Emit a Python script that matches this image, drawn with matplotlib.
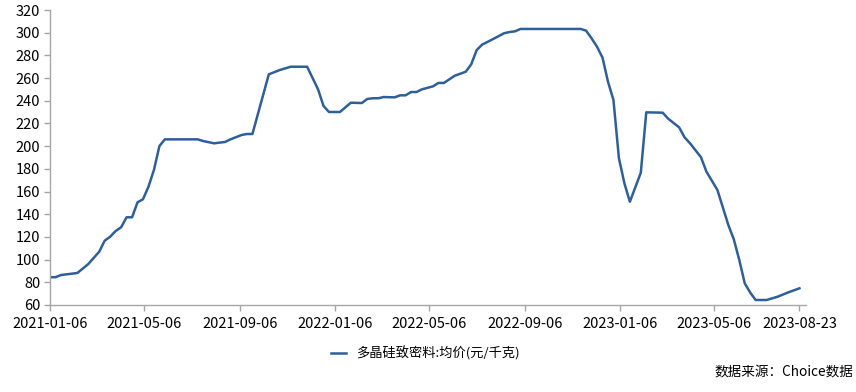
import numpy as np
import pandas as pd
import matplotlib
matplotlib.use("Agg")
import matplotlib.pyplot as plt

plt.rcParams['font.family'] = ['Noto Sans CJK SC', 'DejaVu Sans']
plt.rcParams['axes.unicode_minus'] = False

# ---------------------- 数据 ----------------------
start = "2021-01-06"
# 距 2021-01-06 的周数（周度数据的拐点）
weeks = [0, 1, 2, 4, 5, 7, 9, 10, 11, 12, 13, 14, 15, 16, 17, 18, 19, 20, 21, 27,
         28, 30, 32, 33, 35, 36, 37, 40, 42, 44, 47, 49, 50, 51, 53, 55, 57, 58, 59, 60,
         61, 63, 64, 65, 66, 67, 68, 70, 71, 72, 73, 74, 76, 77, 78, 79, 81, 83, 84, 85,
         86, 97, 98, 99, 100, 101, 102, 103, 104, 105, 106, 108, 109, 112, 113, 115, 116, 117, 119, 120,
         122, 124, 125, 126, 127, 128, 129, 131, 133, 135, 137]
price = [84.5, 84.5, 86.4, 87.6, 88.2, 96.1, 107.0, 116.7, 120.2, 125.2, 128.5, 137.3, 137.3, 150.5, 153.2, 164.3, 179.0, 200.1, 206.0, 206.0,
         204.5, 202.5, 203.7, 206.0, 209.8, 210.7, 210.7, 263.3, 267.1, 270.0, 270.0, 250.1, 235.4, 230.1, 230.1, 238.3, 238.0, 241.6, 242.2, 242.2,
         243.3, 243.0, 244.8, 244.8, 247.7, 247.7, 250.1, 252.7, 255.7, 255.7, 258.9, 262.1, 265.6, 272.1, 284.7, 289.5, 294.4, 299.5, 300.6, 301.2,
         303.3, 303.3, 301.8, 295.0, 287.6, 278.0, 256.8, 240.7, 189.3, 167.3, 151.0, 176.6, 229.8, 229.5, 224.2, 216.6, 207.8, 202.5, 190.2, 177.5,
         161.4, 130.5, 117.9, 99.7, 79.1, 70.9, 64.4, 64.4, 67.3, 71.2, 74.7]
tick_labels = ["2021-01-06", "2021-05-06", "2021-09-06", "2022-01-06", "2022-05-06",
               "2022-09-06", "2023-01-06", "2023-05-06", "2023-08-23"]
series_name = "多晶硅致密料:均价(元/千克)"
source_text = "数据来源：Choice数据"
# ---------------------------------------------------

dates = pd.Timestamp(start) + pd.to_timedelta(np.array(weeks) * 7, unit="D")
ticks = pd.to_datetime(tick_labels)

fig = plt.figure(figsize=(8.56, 3.92), dpi=100)
ax = fig.add_axes([50 / 856, 1 - 305 / 392, (805.7 - 50) / 856, (305 - 10) / 392])

ax.plot(dates, price, color="#2f5f98", lw=1.8, label=series_name)

ax.set_ylim(60, 320)
ax.set_yticks(np.arange(60, 321, 20))
ax.set_xlim(pd.Timestamp(start), pd.Timestamp("2023-08-31"))
ax.set_xticks(ticks)
ax.set_xticklabels(tick_labels)

for s in ["top", "right"]:
    ax.spines[s].set_visible(False)
for s in ["left", "bottom"]:
    ax.spines[s].set_color("#a6a6a6")
    ax.spines[s].set_linewidth(1)
ax.tick_params(axis="both", colors="#a6a6a6", labelcolor="black", labelsize=10.5,
               length=4, width=1, direction="out")
ax.tick_params(axis="y", pad=3)
ax.tick_params(axis="x", pad=5)

ax.legend(loc="upper center", bbox_to_anchor=(0.497, -0.1), frameon=False,
          fontsize=9.5, handlelength=1.1, handletextpad=0.8)

fig.text(853 / 856, 1 - 372 / 392, source_text, ha="right", va="center", fontsize=9.8)

fig.savefig("out.png", dpi=100)
